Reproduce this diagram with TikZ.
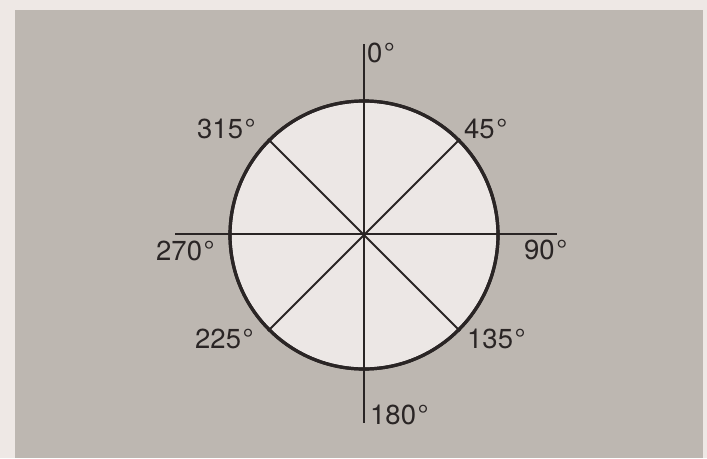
\documentclass[tikz,border=0pt]{standalone}
\usepackage{fontspec}
\setmainfont{TeX Gyre Heros}
\definecolor{paper}{RGB}{238,232,229}
\definecolor{card}{RGB}{189,183,177}
\definecolor{disc}{RGB}{236,231,229}
\definecolor{ink}{RGB}{42,37,37}
\newcommand{\dg}{\kern1.5pt°}
\begin{document}
\begin{tikzpicture}[x=1pt,y=-1pt,
  lbl/.style={font=\fontsize{27.5}{31}\selectfont, text=ink, inner sep=0pt},
  axis/.style={draw=ink, line width=2.4pt},
  spoke/.style={draw=ink, line width=2pt},
  rim/.style={draw=ink, line width=3.2pt, fill=disc}]
\useasboundingbox (0,0) rectangle (707,458);
\fill[paper] (0,0) rectangle (707,458);
\fill[card] (15,10) rectangle (703,458);
\coordinate (c) at (364,235);
\node[rim, circle, minimum size=268pt, inner sep=0pt] (disk) at (c) {};
\coordinate (top) at (364,44);
\coordinate (bot) at (364,423);
\coordinate (lft) at (175,234);
\coordinate (rgt) at (557,234);
\draw[axis] (top) -- (bot);
\draw[axis] (lft) -- (rgt);
\foreach \a in {45,135,225,315} {
  \draw[spoke] (c) -- (disk.\a);
}
\draw[ink, line width=3.2pt] (c) circle (134pt);
\node[lbl, anchor=base west] (l0) at (367,62) {0\dg};
\node[lbl, anchor=base west] (l45) at (464,138) {45\dg};
\node[lbl, anchor=base west] (l90) at (524,259) {90\dg};
\node[lbl, anchor=base west] (l135) at (467,348) {135\dg};
\node[lbl, anchor=base west] (l180) at (370,424) {180\dg};
\node[lbl, anchor=base west] (l225) at (195,348) {225\dg};
\node[lbl, anchor=base west] (l270) at (156,260) {270\dg};
\node[lbl, anchor=base west] (l315) at (197,138) {315\dg};
\end{tikzpicture}
\end{document}
